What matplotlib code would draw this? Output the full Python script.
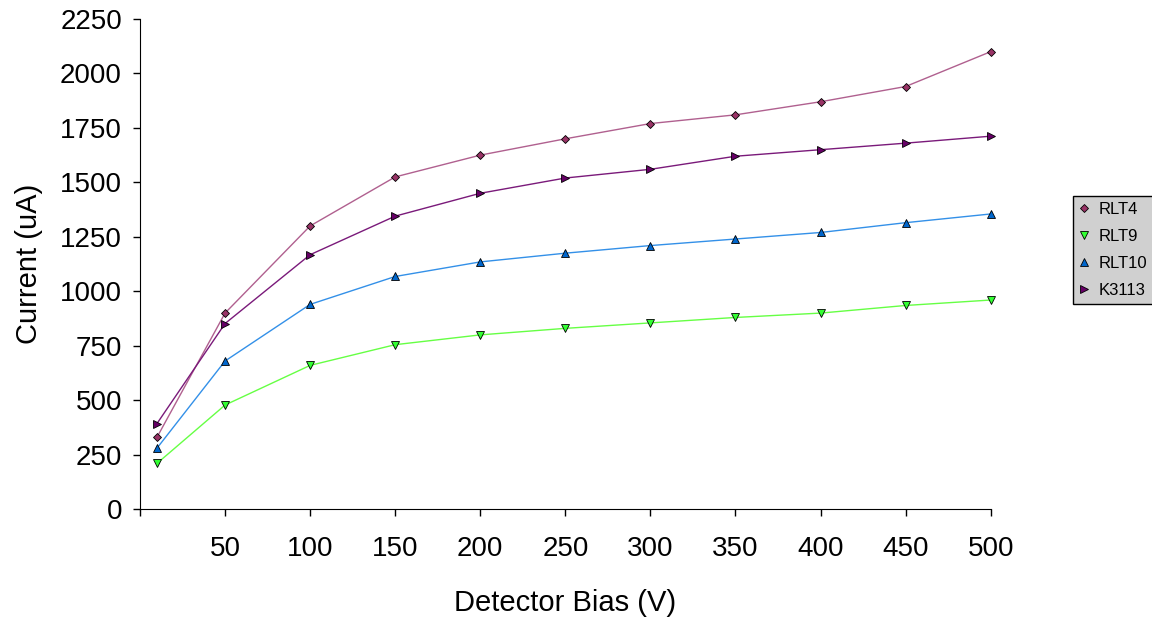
import matplotlib.pyplot as plt

plt.rcParams['font.family'] = ['Liberation Sans', 'DejaVu Sans']

bias = [10, 50, 100, 150, 200, 250, 300, 350, 400, 450, 500]
rlt4 = [330, 900, 1300, 1525, 1625, 1700, 1770, 1810, 1870, 1940, 2100]
rlt9 = [210, 478, 660, 755, 800, 830, 855, 880, 900, 935, 960]
rlt10 = [280, 680, 940, 1068, 1135, 1175, 1210, 1240, 1270, 1315, 1355]
k3113 = [393, 852, 1168, 1345, 1450, 1520, 1560, 1620, 1650, 1680, 1712]

xticks = [0, 50, 100, 150, 200, 250, 300, 350, 400, 450, 500]
xticklabels = [''] + [str(v) for v in xticks[1:]]
yticks = [0, 250, 500, 750, 1000, 1250, 1500, 1750, 2000, 2250]

fig = plt.figure(figsize=(11.52, 6.24), dpi=100)
ax = fig.add_axes([0.1215, 0.184, 0.7385, 0.7856])

series = [
    ("RLT4", rlt4, "D", "#B0608F", "#993366", 4.5),
    ("RLT9", rlt9, "v", "#66FF44", "#33FF33", 6),
    ("RLT10", rlt10, "^", "#3390E8", "#0066CC", 6),
    ("K3113", k3113, ">", "#7A1A7A", "#660066", 6),
]
for name, vals, mk, lc, mc, ms in series:
    ax.plot(bias, vals, color=lc, linewidth=1.0, marker=mk, markersize=ms,
            markerfacecolor=mc, markeredgecolor="black", markeredgewidth=0.6,
            label=name, clip_on=False)

ax.set_xlim(0, 500)
ax.set_ylim(0, 2250)
ax.set_xticks(xticks)
ax.set_xticklabels(xticklabels)
ax.set_yticks(yticks)
ax.tick_params(direction="out", length=5, width=1, labelsize=20, pad=8)
ax.tick_params(axis="x", pad=14)
for s in ["top", "right"]:
    ax.spines[s].set_visible(False)
ax.set_xlabel("Detector Bias (V)", fontsize=21, labelpad=20)
ax.set_ylabel("Current (uA)", fontsize=21, labelpad=12)

leg = ax.legend(loc="center left", bbox_to_anchor=(1.0964, 0.529), fontsize=12,
                frameon=True, fancybox=False, edgecolor="black",
                facecolor="#D0D0D0", framealpha=1, handlelength=0.6,
                handletextpad=0.6, labelspacing=0.72, borderpad=0.35,
                borderaxespad=0)
for line in leg.get_lines():
    line.set_linestyle("")
leg.get_frame().set_linewidth(1.0)

plt.savefig("out.png", dpi=100)
